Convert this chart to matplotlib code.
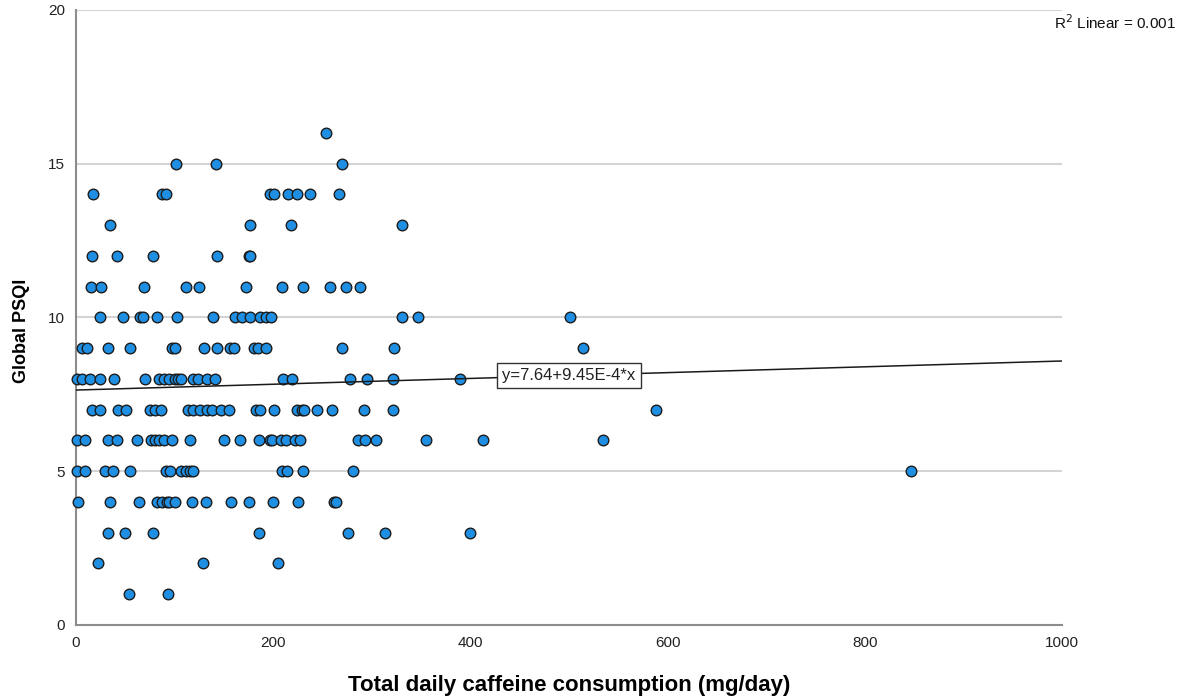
import matplotlib.pyplot as plt
import numpy as np

plt.rcParams['font.family'] = ['Liberation Sans', 'DejaVu Sans']

# caffeine (mg/day) readings grouped by Global PSQI score
caffeine_by_psqi = {
    16: [254],
    15: [101, 142, 270],
    14: [17, 87, 91, 197, 201, 215, 224, 237, 267],
    13: [35, 177, 218, 331],
    12: [16, 42, 78, 143, 175, 177],
    11: [15, 25, 69, 112, 125, 172, 209, 230, 258, 274, 288],
    10: [24, 48, 65, 68, 82, 102, 139, 161, 168, 177, 187, 193, 198, 331, 347, 501],
    9: [6, 11, 33, 55, 97, 100, 130, 143, 156, 160, 181, 185, 193, 270, 323, 514],
    8: [1, 6, 14, 24, 39, 70, 84, 89, 94, 100, 103, 107, 119, 124, 133, 141,
        210, 219, 278, 295, 322, 389],
    7: [16, 24, 43, 51, 75, 80, 86, 114, 119, 126, 133, 138, 147, 155, 183, 187,
        201, 224, 229, 231, 244, 260, 292, 322, 588],
    6: [1, 9, 32, 42, 62, 76, 80, 84, 89, 97, 116, 150, 166, 186, 197, 199, 208,
        213, 222, 227, 286, 293, 304, 355, 413, 535],
    5: [1, 9, 29, 38, 55, 91, 95, 107, 112, 116, 119, 209, 214, 230, 281, 847],
    4: [2, 35, 64, 82, 87, 92, 94, 100, 118, 132, 157, 175, 200, 225, 262, 264],
    3: [33, 50, 78, 186, 276, 313, 400],
    2: [22, 129, 205],
    1: [54, 93],
}
intercept = 7.64
slope = 9.45e-4
x_ticks = [0, 200, 400, 600, 800, 1000]
y_ticks = [0, 5, 10, 15, 20]

caffeine = []
psqi = []
for score, vals in caffeine_by_psqi.items():
    caffeine += vals
    psqi += [score] * len(vals)

fig = plt.figure(figsize=(11.85, 6.97), dpi=100)
ax = fig.add_axes([0.0641, 0.1033, 0.8321, 0.8824])

for yv in y_ticks[1:]:
    ax.axhline(yv, color='#d4d4d4', lw=1.5, zorder=0)

ax.scatter(caffeine, psqi, s=58, color='#1f8fe3', edgecolor='#1c1c1c',
           linewidth=1.0, zorder=3, clip_on=False)

xs = np.array([0, 1000])
ax.plot(xs, intercept + slope * xs, color='#1a1a1a', lw=1.1, zorder=4)
ax.text(500, intercept + slope * 500, 'y=7.64+9.45E-4*x', fontsize=12,
        ha='center', va='center', color='#222222', zorder=5,
        bbox=dict(boxstyle='square,pad=0.3', fc='white', ec='#333333', lw=1))

ax.set_xlim(0, 1000)
ax.set_ylim(0, 20)
ax.set_xticks(x_ticks)
ax.set_yticks(y_ticks)
ax.tick_params(length=0, labelsize=11, colors='#222222', pad=8)
ax.tick_params(axis='y', pad=8)
for side in ['top', 'right']:
    ax.spines[side].set_visible(False)
for side in ['left', 'bottom']:
    ax.spines[side].set_color('#8c8c8c')
    ax.spines[side].set_linewidth(1.5)

ax.set_xlabel('Total daily caffeine consumption (mg/day)', fontsize=16,
              fontweight='bold', labelpad=18)
ax.set_ylabel('Global PSQI', fontsize=13, fontweight='bold')
ax.yaxis.set_label_coords(-0.047, 0.478)

fig.text(0.992, 0.968, r'R$^2$ Linear = 0.001', fontsize=11, ha='right',
         va='center', color='#111111')

fig.savefig('out.png', dpi=100)
